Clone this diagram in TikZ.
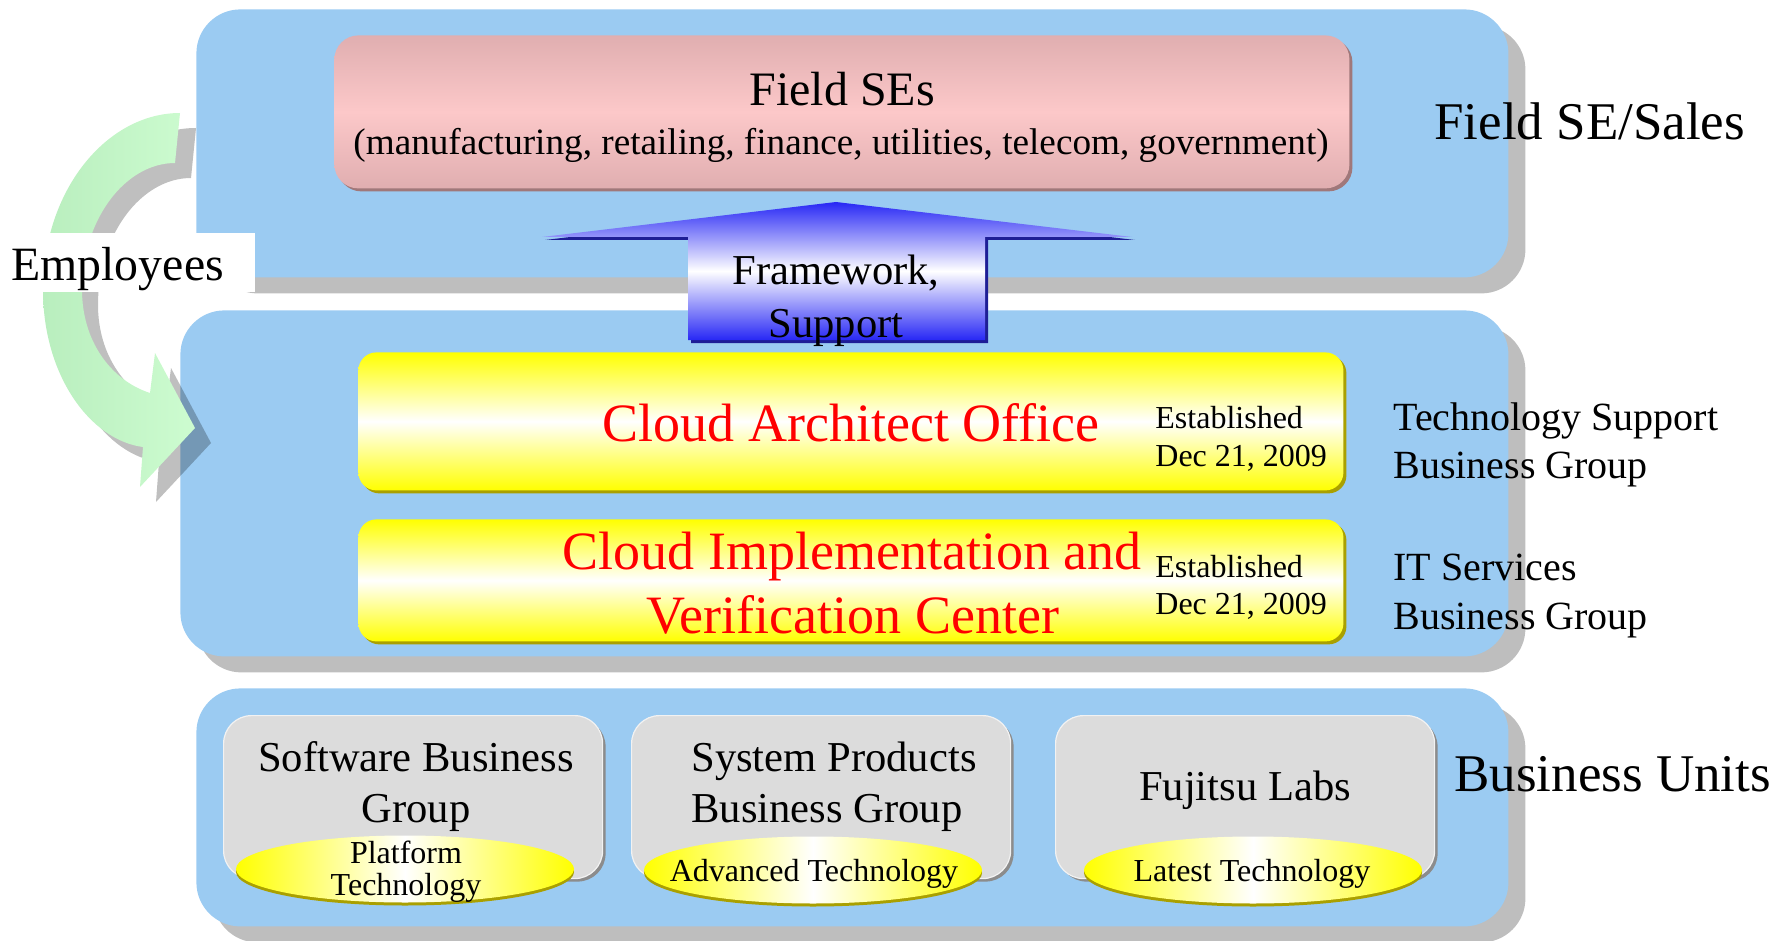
\documentclass[tikz,border=0pt]{standalone}
\usepackage{fontspec}
\setmainfont{Liberation Serif}
\usetikzlibrary{shadows,shapes.geometric}
\definecolor{panelblue}{RGB}{155,203,242}
\definecolor{shadowgray}{RGB}{190,190,190}
\definecolor{pinkdark}{RGB}{224,174,176}
\definecolor{pinklight}{RGB}{252,200,201}
\definecolor{pinkedge}{RGB}{160,120,122}
\definecolor{boxgray}{RGB}{220,220,220}
\definecolor{grayedge}{RGB}{140,140,140}
\definecolor{yel}{RGB}{255,255,0}
\definecolor{oliveedge}{RGB}{170,160,0}
\definecolor{arrowblue}{RGB}{40,40,245}
\definecolor{navyedge}{RGB}{30,30,150}
\definecolor{greenL}{RGB}{185,238,190}
\definecolor{greenR}{RGB}{205,252,208}
\tikzset{
  panel/.style={fill=panelblue, rounded corners=22pt, anchor=north west, inner sep=0pt,
    drop shadow={shadow xshift=8.5pt, shadow yshift=-8pt, fill=shadowgray, opacity=1}},
  pinkbox/.style={rounded corners=12pt, anchor=north west, inner sep=0pt,
    top color=pinkdark, bottom color=pinkdark, middle color=pinklight,
    drop shadow={shadow xshift=1.5pt, shadow yshift=-1.5pt, fill=pinkedge, opacity=1}},
  yelbox/.style={rounded corners=9pt, anchor=north west, inner sep=0pt,
    top color=yel, bottom color=yel, middle color=white,
    drop shadow={shadow xshift=1.5pt, shadow yshift=-1.5pt, fill=oliveedge, opacity=1}},
  graybox/.style={rounded corners=14pt, anchor=north west, inner sep=0pt, fill=boxgray,
    draw=white!90!gray, line width=0.6pt,
    drop shadow={shadow xshift=1.5pt, shadow yshift=-1.5pt, fill=grayedge, opacity=1}},
  yelell/.style={ellipse, inner sep=0pt, minimum width=169pt, minimum height=33.5pt,
    left color=yel, right color=yel, middle color=white,
    drop shadow={shadow xshift=0pt, shadow yshift=-1.5pt, fill=oliveedge, opacity=1}},
  txt/.style={inner sep=0pt, anchor=base, text=black},
  txtl/.style={inner sep=0pt, anchor=base west, text=black},
  big/.style={font=\fontsize{26.5}{30}\selectfont},
  mid/.style={font=\fontsize{21.3}{25}\selectfont},
  lab/.style={font=\fontsize{20}{24}\selectfont},
  small/.style={font=\fontsize{16}{19}\selectfont},
  cloud/.style={font=\fontsize{27}{31}\selectfont, text=red},
}
\begin{document}
\begin{tikzpicture}[x=0.5pt,y=-0.5pt]
\useasboundingbox (0,0) rectangle (1788,941);
% panels
\node[panel, minimum width=656pt, minimum height=134pt] (toppanel) at (196,9) {};
\node[panel, minimum width=664pt, minimum height=173pt] (midpanel) at (180,310) {};
\node[panel, minimum width=656pt, minimum height=119pt] (botpanel) at (196,688) {};
% boxes
\node[pinkbox, minimum width=507.5pt, minimum height=76.5pt] (fieldbox) at (334,35) {};
\node[yelbox, minimum width=492.5pt, minimum height=69pt] (cao) at (358,352) {};
\node[yelbox, minimum width=492.5pt, minimum height=61pt] (civc) at (358,519) {};
\node[graybox, minimum width=189.5pt, minimum height=81.5pt] (swbox) at (223,715) {};
\node[graybox, minimum width=189.5pt, minimum height=81.5pt] (spbox) at (631,715) {};
\node[graybox, minimum width=189.5pt, minimum height=81.5pt] (fjbox) at (1055,715) {};
\node[yelell] (swell) at (405,869) {};
\node[yelell] (spell) at (813,870) {};
\node[yelell] (fjell) at (1253,870) {};
% green curved arrow
\path[fill=black, opacity=0.25, shift={(16,15)}]
  (180,113) .. controls (107,113) and (43,190) .. (43,290)
  .. controls (43,375) and (90,440) .. (143,447) -- (140,487) -- (195,428)
  -- (155,353) -- (150,393) .. controls (110,380) and (82,340) .. (82,290)
  .. controls (82,220) and (125,163) .. (175,163) -- cycle;
\path[left color=greenL, right color=greenR]
  (180,113) .. controls (107,113) and (43,190) .. (43,290)
  .. controls (43,375) and (90,440) .. (143,447) -- (140,487) -- (195,428)
  -- (155,353) -- (150,393) .. controls (110,380) and (82,340) .. (82,290)
  .. controls (82,220) and (125,163) .. (175,163) -- cycle;
% employees label
\fill[white] (0,233) rectangle (255,292);
\node[txtl, font=\fontsize{23.9}{28}\selectfont] (emp) at (11,280) {Employees};
% framework arrow
\path[fill=navyedge, shift={(3,3)}]
  (542,237) -- (836,202) -- (1132,237) -- (985,237) -- (985,340) -- (688,340) -- (688,237) -- cycle;
\path[top color=arrowblue, bottom color=arrowblue, middle color=white]
  (542,237) -- (836,202) -- (1132,237) -- (985,237) -- (985,340) -- (688,340) -- (688,237) -- cycle;
\node[txt, font=\fontsize{21.3}{25}\selectfont] (fw1) at (836,285) {Framework,};
\node[txt, font=\fontsize{21.3}{25}\selectfont] (fw2) at (836,337) {Support};
% texts top
\node[txt, font=\fontsize{24}{28}\selectfont] (fse1) at (842,106) {Field SEs};
\node[txt, font=\fontsize{18.6}{22}\selectfont] (fse2) at (841,155) {(manufacturing, retailing, finance, utilities, telecom, government)};
\node[txtl, big] (fsales) at (1434,140) {Field SE/Sales};
% middle texts
\node[txt, cloud] (caot) at (851,441) {Cloud Architect Office};
\node[txt, cloud] (civc1) at (852,569) {Cloud Implementation and};
\node[txt, cloud] (civc2) at (853,633) {Verification Center};
\node[txtl, small] (est1) at (1155,428) {Established};
\node[txtl, small] (date1) at (1155,466) {Dec 21, 2009};
\node[txtl, small] (est2) at (1155,577) {Established};
\node[txtl, small] (date2) at (1155,614) {Dec 21, 2009};
\node[txtl, lab] (tsbg1) at (1393,430) {Technology Support};
\node[txtl, lab] (tsbg2) at (1393,478) {Business Group};
\node[txtl, lab] (itbg1) at (1393,580) {IT Services};
\node[txtl, lab] (itbg2) at (1393,629) {Business Group};
% bottom texts
\node[txt, mid] (sw1) at (416,771) {Software Business};
\node[txt, mid] (sw2) at (416,822) {Group};
\node[txtl, mid] (sp1) at (691,771) {System Products};
\node[txtl, mid] (sp2) at (691,822) {Business Group};
\node[txt, mid] (fj) at (1245,800) {Fujitsu Labs};
\node[txt, small] (swe1) at (406,863) {Platform};
\node[txt, small] (swe2) at (406,895) {Technology};
\node[txt, small] (spe) at (814,881) {Advanced Technology};
\node[txt, small] (fje) at (1252,881) {Latest Technology};
\node[txtl, big] (bu) at (1454,791) {Business Units};
\end{tikzpicture}
\end{document}
